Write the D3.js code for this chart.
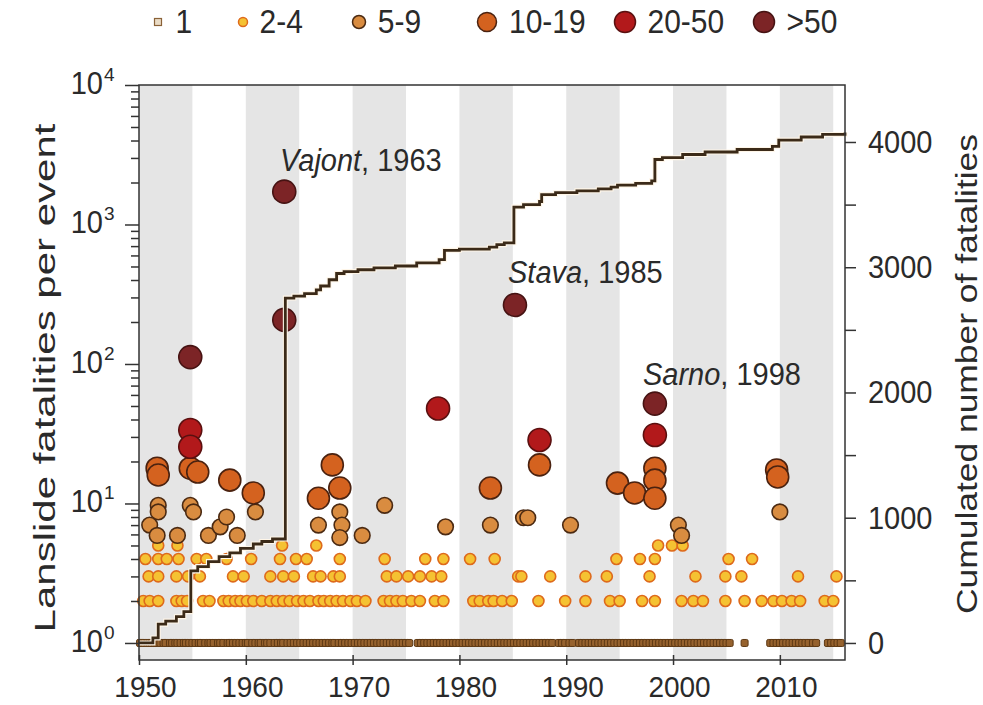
<!DOCTYPE html>
<html>
<head>
<meta charset="utf-8">
<script src="https://cdn.jsdelivr.net/npm/d3@7"></script>
<style>
body { margin: 0; background: #fff; }
svg { display: block; font-family: "Liberation Sans", Arial, sans-serif; }
</style>
</head>
<body>
<svg width="983" height="705"></svg>
<script>
// classes of the legend
const classes = ['1', '2-4', '5-9', '10-19', '20-50', '>50']

// single-fatality events (all at 1 death), year only
const ones = [
  1950.1, 1950.3, 1950.5, 1950.8, 1951.0, 1951.2, 1951.5, 1951.7, 1952.0, 1952.3, 1952.5, 1952.9,
  1953.1, 1953.4, 1953.6, 1953.9, 1954.2, 1954.4, 1954.7, 1955.0, 1955.3, 1955.6, 1955.8, 1956.2,
  1956.5, 1956.7, 1957.0, 1957.4, 1957.6, 1957.9, 1958.3, 1958.5, 1958.8, 1959.1, 1959.4, 1959.7,
  1960.0, 1960.2, 1960.6, 1960.9, 1961.2, 1961.4, 1961.8, 1962.0, 1962.3, 1962.7, 1963.0, 1963.3,
  1963.5, 1963.9, 1964.2, 1964.5, 1964.8, 1965.1, 1965.4, 1965.7, 1966.0, 1966.3, 1966.6, 1966.9,
  1967.2, 1967.5, 1967.8, 1968.1, 1968.3, 1968.7, 1969.0, 1969.3, 1969.6, 1969.9, 1970.2, 1970.5,
  1970.8, 1971.1, 1971.4, 1971.7, 1972.0, 1972.3, 1972.6, 1972.9, 1973.2, 1973.5, 1973.8, 1974.1,
  1974.4, 1974.7, 1975.0, 1975.3,
  1976.1, 1976.4, 1976.7, 1977.0, 1977.3, 1977.6, 1977.9, 1978.2, 1978.5, 1978.8, 1979.1, 1979.4,
  1979.7, 1980.0, 1980.3, 1980.6, 1980.9, 1981.2, 1981.5, 1981.8, 1982.1, 1982.4, 1982.7, 1983.0,
  1983.3, 1983.6, 1983.9, 1984.2, 1984.5, 1984.8, 1985.1, 1985.4, 1985.7, 1986.0, 1986.3, 1986.6,
  1986.9, 1987.2, 1987.5, 1987.8, 1988.1, 1988.4, 1988.7, 1989.3, 1989.6, 1989.9, 1990.3, 1990.6,
  1991.2, 1991.5, 1991.8, 1992.1, 1992.4, 1992.7, 1993.0, 1993.3, 1993.6, 1993.9, 1994.2, 1994.5,
  1994.8, 1995.1, 1995.4, 1995.7, 1996.0, 1996.3, 1996.6, 1996.9, 1997.2, 1997.5, 1997.8, 1998.1,
  1998.4, 1998.7, 1999.0, 1999.3, 1999.6, 1999.9, 2000.2, 2000.5, 2000.8, 2001.1, 2001.4, 2001.7,
  2002.0, 2002.3, 2002.6, 2002.9, 2003.2, 2003.5, 2003.8, 2004.1, 2004.4, 2004.7, 2005.0, 2005.3,
  2006.7,
  2009.1, 2009.4, 2009.7, 2010.0, 2010.3, 2010.6, 2010.9, 2011.2, 2011.5, 2011.8, 2012.1, 2012.4,
  2012.7, 2013.1, 2013.4,
  2014.5, 2014.8, 2015.1, 2015.4, 2015.7
]

// [year, fatalities] per class
const pts2to4 = [
  // 5-ish small markers
  [1951.8, 5], [1953.6, 5], [1963.4, 5], [1966.6, 5], [1998.6, 5], [1999.9, 5], [2000.9, 5],
  // 4
  [1950.6, 4], [1951.8, 4], [1952.6, 4], [1953.7, 4], [1955.4, 4], [1956.3, 4], [1958.2, 4],
  [1960.5, 4], [1963.2, 4], [1964.7, 4], [1965.7, 4], [1968.8, 4], [1973.0, 4], [1976.8, 4],
  [1978.5, 4], [1981.0, 4], [1983.3, 4], [1994.7, 4], [1996.9, 4], [1998.3, 4], [2005.2, 4],
  [2007.4, 4],
  // 3
  [1950.9, 3], [1951.8, 3], [1953.5, 3], [1954.6, 3], [1955.7, 3], [1958.8, 3], [1959.8, 3],
  [1962.3, 3], [1963.5, 3], [1964.5, 3], [1966.3, 3], [1967.0, 3], [1968.2, 3], [1968.8, 3],
  [1973.2, 3], [1974.1, 3], [1975.2, 3], [1976.3, 3], [1977.4, 3], [1978.3, 3], [1985.5, 3],
  [1985.8, 3], [1988.5, 3], [1991.8, 3], [1993.8, 3], [1997.8, 3], [2002.1, 3], [2004.9, 3],
  [2006.4, 3], [2011.7, 3], [2015.3, 3],
  // 2
  [1950.4, 2], [1951.0, 2], [1951.8, 2], [1953.5, 2], [1954.0, 2], [1954.5, 2], [1956.0, 2],
  [1956.6, 2], [1957.9, 2], [1958.4, 2], [1959.0, 2], [1959.5, 2], [1960.1, 2], [1960.7, 2],
  [1961.5, 2], [1962.3, 2], [1962.9, 2], [1963.5, 2], [1964.1, 2], [1964.8, 2], [1965.4, 2],
  [1966.0, 2], [1966.8, 2], [1967.3, 2], [1967.9, 2], [1968.5, 2], [1969.1, 2], [1969.8, 2],
  [1970.4, 2], [1971.2, 2], [1972.9, 2], [1973.5, 2], [1974.1, 2], [1974.7, 2], [1975.5, 2],
  [1976.3, 2], [1977.7, 2], [1978.5, 2], [1981.3, 2], [1981.9, 2], [1982.7, 2], [1983.2, 2],
  [1984.0, 2], [1984.9, 2], [1987.4, 2], [1989.9, 2], [1991.8, 2], [1994.1, 2], [1995.0, 2],
  [1997.1, 2], [1998.3, 2], [2000.8, 2], [2001.9, 2], [2002.8, 2], [2004.9, 2], [2006.7, 2],
  [2008.3, 2], [2009.4, 2], [2010.2, 2], [2011.1, 2], [2011.9, 2], [2014.2, 2], [2015.0, 2]
]
const pts5to9 = [
  [1951.8, 9.7], [1951.8, 8.7], [1951.0, 7.0], [1951.7, 5.9], [1953.6, 5.9], [1954.8, 9.7],
  [1955.1, 8.7], [1956.5, 5.9], [1957.6, 6.8], [1958.2, 8.0], [1959.2, 5.9], [1960.9, 8.7],
  [1966.8, 7.0], [1968.8, 8.7], [1969.0, 7.0], [1968.8, 5.7], [1970.9, 5.9], [1973.0, 9.7],
  [1978.7, 6.8], [1982.9, 7.0], [1986.0, 7.9], [1986.4, 7.9], [1990.4, 7.0], [2000.5, 7.0],
  [2000.8, 5.9], [2010.0, 8.7]
]
const pts10to19 = [
  [1951.7, 17.9], [1951.8, 16.0], [1954.8, 17.9], [1955.5, 16.8], [1958.5, 14.7], [1960.7, 11.9],
  [1966.8, 10.9], [1968.1, 18.9], [1968.8, 12.9], [1982.9, 12.9], [1987.5, 18.9], [1994.8, 14.0],
  [1996.4, 11.9], [1998.3, 17.9], [1998.3, 14.7], [1998.3, 10.9], [2009.7, 17.4], [2009.8, 15.5]
]
const pts20to50 = [[1954.8, 33.6], [1954.8, 25.5], [1978.0, 48], [1987.5, 28.5], [1998.3, 31]]
const ptsOver50 = [[1954.8, 112], [1963.6, 1720], [1963.6, 207], [1985.2, 265], [1998.3, 52]]

// cumulated fatalities, step after each year
const cumYears = [1950.0, 1951.3, 1951.8, 1952.5, 1953.5, 1954.2, 1954.85, 1955.5, 1956.5, 1957.5,
  1958.5, 1959.5, 1960.7, 1961.5, 1962.5, 1963.7, 1964.5, 1965.5, 1966.6, 1967.0, 1967.8, 1968.5,
  1969.2, 1970.5, 1972.0, 1974.0, 1976.0, 1978.1, 1978.6, 1980.0, 1982.8, 1983.5, 1984.2, 1985.1,
  1986.0, 1987.5, 1987.7, 1989.0, 1991.0, 1993.0, 1994.2, 1994.8, 1996.5, 1998.0, 1998.3, 1999.0,
  2000.9, 2003.0, 2006.0, 2009.3, 2009.9, 2012.0, 2014.0, 2016.1]
const cumValues = [0, 40, 150, 175, 210, 250, 575, 610, 650, 690, 720, 755, 790, 810, 830, 2754,
  2770, 2790, 2820, 2850, 2900, 2950, 2965, 2980, 2995, 3010, 3035, 3060, 3135, 3145, 3160, 3180,
  3195, 3480, 3500, 3525, 3580, 3595, 3610, 3625, 3640, 3655, 3670, 3690, 3860, 3875, 3900, 3920,
  3940, 3965, 4015, 4040, 4060, 4075]

const leftTicks = [1, 10, 100, 1000, 10000]
const yearTicks = [1950, 1960, 1970, 1980, 1990, 2000, 2010]
const cumTicks = [0, 1000, 2000, 3000, 4000]
const bandStarts = [1950, 1960, 1970, 1980, 1990, 2000, 2010]

const annotations = [
  { name: 'Vajont', year: ', 1963', x: 280, y: 171 },
  { name: 'Stava', year: ', 1985', x: 508, y: 283 },
  { name: 'Sarno', year: ', 1998', x: 643, y: 385 }
]

const styles = {
  '1':     { r: 3.5, fill: '#96622e', stroke: '#5e3914', sw: 1 },
  '2-4':   { r: 5.5, fill: '#f5c232', stroke: '#de6a1c', sw: 1.6 },
  '5-9':   { r: 7.8, fill: '#d98c40', stroke: '#4b2a12', sw: 1.6 },
  '10-19': { r: 11, fill: '#d4621f', stroke: '#4a2210', sw: 1.6 },
  '20-50': { r: 11.5, fill: '#b2191b', stroke: '#5a1010', sw: 1.6 },
  '>50':   { r: 11.5, fill: '#7c2426', stroke: '#461313', sw: 1.6 }
}

const svg = d3.select('svg')
const L = 139, R = 845, T = 85, B = 660
const ink = '#2a2a2a'

const x = d3.scaleLinear().domain([1950, 2016.1]).range([L, R])
const y = d3.scaleLog().domain([0.755, 10000]).range([B, T])
const yc = d3.scaleLinear().domain([-136, 4455]).range([B, T])

// grey five-year bands
svg.append('g').selectAll('rect')
  .data(bandStarts)
  .enter().append('rect')
  .attr('x', d => x(d))
  .attr('width', d => x(d + 5) - x(d))
  .attr('y', T)
  .attr('height', B - T)
  .attr('fill', '#e5e5e5')

function scaledText(g, tx, ty, sx, sy, size) {
  return g.append('text')
    .attr('transform', `translate(${tx},${ty}) scale(${sx},${sy})`)
    .attr('font-size', size)
    .attr('fill', ink)
}

// points
function drawCircles(data, cls) {
  const s = styles[cls]
  svg.append('g').selectAll('circle')
    .data(data)
    .enter().append('circle')
    .attr('cx', d => x(d[0]))
    .attr('cy', d => y(d[1]))
    .attr('r', s.r)
    .attr('fill', s.fill)
    .attr('stroke', s.stroke)
    .attr('stroke-width', s.sw)
}

const s1 = styles['1']
svg.append('g').selectAll('rect')
  .data(ones)
  .enter().append('rect')
  .attr('x', d => x(d) - s1.r)
  .attr('y', y(1) - s1.r)
  .attr('width', s1.r * 2)
  .attr('height', s1.r * 2)
  .attr('rx', 1.5)
  .attr('fill', s1.fill)
  .attr('stroke', s1.stroke)
  .attr('stroke-width', s1.sw)

drawCircles(pts2to4, '2-4')
drawCircles(pts5to9, '5-9')
drawCircles(pts10to19, '10-19')
drawCircles(pts20to50, '20-50')
drawCircles(ptsOver50, '>50')

// cumulated line
const cum = cumYears.map((yr, i) => [yr, cumValues[i]])
const line = d3.line().x(d => x(d[0])).y(d => yc(d[1])).curve(d3.curveStepAfter)
svg.append('path').datum(cum)
  .attr('d', line).attr('fill', 'none')
  .attr('stroke', '#fff6e8').attr('stroke-width', 5)
svg.append('path').datum(cum)
  .attr('d', line).attr('fill', 'none')
  .attr('stroke', '#3b2a18').attr('stroke-width', 2.8)

// frame
svg.append('rect')
  .attr('x', L).attr('y', T).attr('width', R - L).attr('height', B - T)
  .attr('fill', 'none').attr('stroke', '#333').attr('stroke-width', 1.5)

// left log axis
const minorTicks = []
leftTicks.slice(0, -1).forEach(d => { for (let k = 2; k <= 9; k++) minorTicks.push(d * k) })
const gl = svg.append('g').attr('transform', `translate(${L},0)`)
gl.call(d3.axisLeft(y).tickValues(leftTicks).tickSize(14).tickFormat(''))
gl.append('g').call(d3.axisLeft(y).tickValues(minorTicks).tickSize(8).tickFormat(''))
gl.selectAll('.domain').remove()
gl.selectAll('line').attr('stroke', '#333').attr('stroke-width', 1.5)

leftTicks.forEach((d, i) => {
  const t = scaledText(svg, 103, y(d) + 9, 1, 1.05, 29).attr('text-anchor', 'end')
  t.text('10')
  svg.append('text')
    .attr('x', 104).attr('y', y(d) - 4)
    .attr('font-size', 19).attr('fill', ink)
    .text(i)
})

// bottom axis
const gb = svg.append('g').attr('transform', `translate(0,${B - 5})`)
gb.call(d3.axisBottom(x).tickValues(yearTicks).tickSize(10).tickFormat(d3.format('d')))
gb.selectAll('.domain').remove()
gb.selectAll('line').attr('stroke', '#333').attr('stroke-width', 1.5)
gb.selectAll('text')
  .attr('font-size', 28).attr('fill', ink)
  .attr('font-family', '"Liberation Sans", Arial, sans-serif')
  .attr('y', 0).attr('dy', 0)
  .attr('transform', 'translate(6,42) scale(1,1.06)')

// right linear axis
const gr = svg.append('g').attr('transform', `translate(${R},0)`)
gr.call(d3.axisRight(yc).tickValues(d3.range(0, 4001, 500)).tickSize(11).tickFormat(''))
gr.selectAll('.domain').remove()
gr.selectAll('line').attr('stroke', '#333').attr('stroke-width', 1.5)
cumTicks.forEach(d => {
  scaledText(svg, 868, yc(d) + 11, 1, 1.05, 29).text(d)
})

// axis titles
scaledText(svg, 55, 378, 1, 1.4, 30)
  .attr('text-anchor', 'middle')
  .attr('transform', 'translate(55,378) scale(1,1.4) rotate(-90)')
  .text('Lanslide fatalities per event')
scaledText(svg, 977, 374, 1, 1.18, 30)
  .attr('text-anchor', 'middle')
  .attr('transform', 'translate(977,374) scale(1,1.18) rotate(-90)')
  .text('Cumulated number of fatalities')

// annotations
annotations.forEach(a => {
  const t = scaledText(svg, a.x, a.y, 1, 1.05, 29)
  t.append('tspan').attr('font-style', 'italic').text(a.name)
  t.append('tspan').text(a.year)
})

// legend
const legendPos = [158, 243, 359, 487, 625, 764]
const lg = svg.append('g')
classes.forEach((c, i) => {
  const s = styles[c]
  const cx = legendPos[i]
  if (c === '1') {
    lg.append('rect').attr('x', cx - 3.5).attr('y', 22 - 3.5).attr('width', 7).attr('height', 7)
      .attr('fill', '#eadcc6').attr('stroke', '#8a6238').attr('stroke-width', 1.2)
  } else {
    const r = c === '2-4' ? 4.5 : c === '5-9' ? 6.5 : c === '10-19' ? 9.5 : 10.5
    lg.append('circle').attr('cx', cx).attr('cy', 22).attr('r', r)
      .attr('fill', s.fill).attr('stroke', s.stroke).attr('stroke-width', 1.5)
  }
  scaledText(lg, cx + s.r + (c === '1' ? 14 : 11), 33, 1, 1.12, 30).text(c)
})
</script>
</body>
</html>
